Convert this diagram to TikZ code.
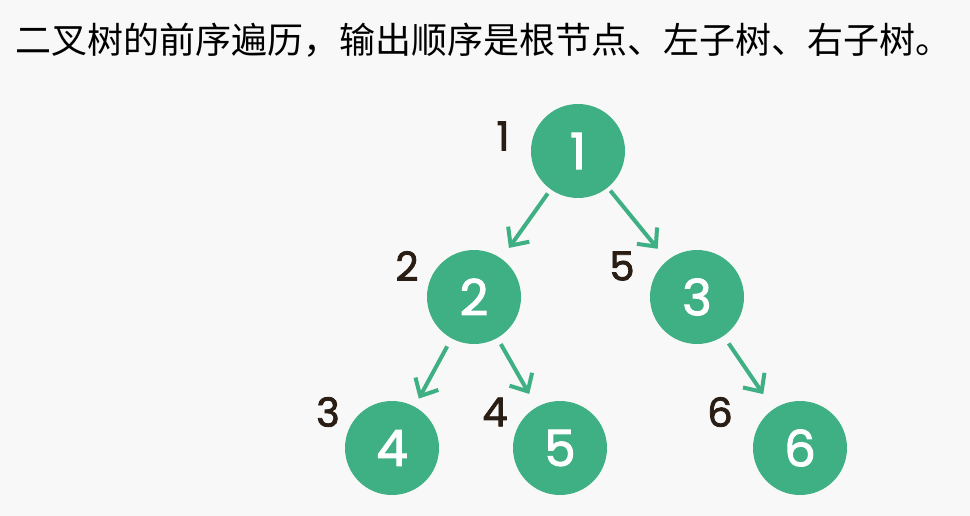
\documentclass[tikz,border=0pt]{standalone}
\usepackage{fontspec}
\setmainfont{Poppins}
\newfontfamily\digitfont{Poppins}[FakeBold=2]
\newfontfamily\cjk{Noto Sans CJK SC}
\usetikzlibrary{arrows.meta}
\definecolor{bg}{HTML}{F8F8F8}
\definecolor{tgreen}{HTML}{3FAF84}
\definecolor{ink}{HTML}{2A1E14}
\begin{document}
\begin{tikzpicture}[x=1pt,y=-1pt,
  treenode/.style={circle,fill=tgreen,minimum size=94pt,inner sep=0pt,text=white,font=\digitfont\fontsize{50}{50}\selectfont},
  ordlabel/.style={text=ink,font=\digitfont\fontsize{40}{40}\selectfont,inner sep=0pt},
  edge/.style={draw=tgreen,line width=4pt,-{Straight Barb[length=14pt,width=26pt,line width=4pt]}}]
\fill[bg] (0,0) rectangle (970,516);
\useasboundingbox (0,0) rectangle (970,516);
\node[anchor=west,inner sep=0pt,font=\cjk\fontsize{36}{36}\selectfont] (title) at (15,40) {二叉树的前序遍历，输出顺序是根节点、左子树、右子树。};
\node[treenode] (n1) at (578,151) {1};
\node[treenode] (n2) at (474,297) {2};
\node[treenode] (n3) at (697,297) {3};
\node[treenode] (n4) at (392,448) {4};
\node[treenode] (n5) at (560,448) {5};
\node[treenode] (n6) at (800,448) {6};
\node[ordlabel] (l1) at (503,136) {1};
\node[ordlabel] (l2) at (407,266) {2};
\node[ordlabel] (l5) at (622,266) {5};
\node[ordlabel] (l3) at (328,412) {3};
\node[ordlabel] (l4) at (495,412) {4};
\node[ordlabel] (l6) at (720,412) {6};
\draw[edge,shorten <=5pt,shorten >=13pt] (n1) -- (n2);
\draw[edge,shorten <=4pt,shorten >=15pt] (n1) -- (n3);
\draw[edge,shorten <=9pt,shorten >=9pt] (n2) -- (n4);
\draw[edge,shorten <=7pt,shorten >=15pt] (n2) -- (n5);
\draw[edge,shorten <=9pt,shorten >=18pt] (n3) -- (n6);
\end{tikzpicture}
\end{document}
